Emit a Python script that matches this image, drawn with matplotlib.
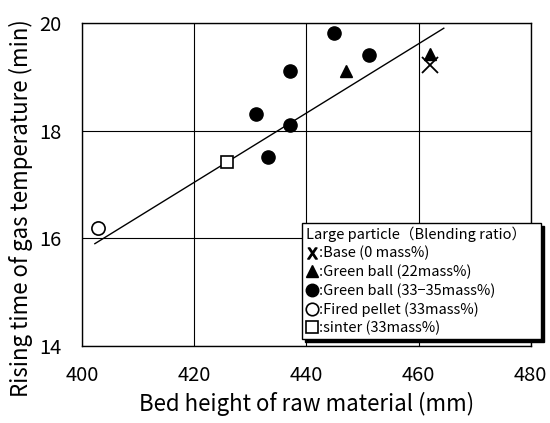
import numpy as np
import matplotlib
matplotlib.use('Agg')
import matplotlib.pyplot as plt
from matplotlib.lines import Line2D

plt.rcParams['font.family'] = ['Noto Sans CJK JP', 'DejaVu Sans']

# data
base_x = [462.0]
base_y = [19.22]
gb22_x = [447.1, 462.0]
gb22_y = [19.11, 19.42]
gb33_x = [445.0, 451.1, 437.0, 431.0, 437.0, 433.2]
gb33_y = [19.82, 19.41, 19.11, 18.30, 18.11, 17.51]
pellet_x = [402.9]
pellet_y = [16.19]
sinter_x = [425.9]
sinter_y = [17.42]
fit_x = [402.3, 464.5]
fit_y = [15.90, 19.90]

labels = [':Base (0 mass%)', ':Green ball (22mass%)', ':Green ball (33\u221235mass%)',
          ':Fired pellet (33mass%)', ':sinter (33mass%)']

fig = plt.figure(figsize=(5.5, 4.23), dpi=100)
ax = fig.add_axes([0.149, 0.182, 0.816, 0.764])

ax.plot(fit_x, fit_y, color='k', lw=1.0)
ax.plot(base_x, base_y, 'x', color='k', ms=11, mew=1.3)
ax.plot(gb22_x, gb22_y, '^', color='k', ms=9)
ax.plot(gb33_x, gb33_y, 'o', color='k', ms=9.5)
ax.plot(pellet_x, pellet_y, 'o', mfc='white', mec='k', ms=9.5, mew=1.2)
ax.plot(sinter_x, sinter_y, 's', mfc='white', mec='k', ms=8.5, mew=1.2)

ax.set_xlim(400, 480)
ax.set_ylim(14, 20)
ax.set_xticks([400, 420, 440, 460, 480])
ax.set_yticks([14, 16, 18, 20])
ax.grid(True, color='k', lw=0.8)
ax.tick_params(length=0, labelsize=14.5)
ax.tick_params(axis='x', pad=14)
ax.tick_params(axis='y', pad=15)
for s in ax.spines.values():
    s.set_linewidth(1.0)
ax.set_xlabel('Bed height of raw material (mm)', fontsize=16, labelpad=4)
ax.set_ylabel('Rising time of gas temperature (min)', fontsize=16)
ax.yaxis.set_label_coords(-0.108, 0.427)

handles = [
    Line2D([], [], ls='none', marker=r'$\mathsf{X}$', color='k', ms=8),
    Line2D([], [], ls='none', marker='^', color='k', ms=8),
    Line2D([], [], ls='none', marker='o', color='k', ms=9),
    Line2D([], [], ls='none', marker='o', mfc='white', mec='k', ms=9, mew=1.2),
    Line2D([], [], ls='none', marker='s', mfc='white', mec='k', ms=8, mew=1.2),
]
leg = ax.legend(handles, labels, title='Large particle\uff08Blending ratio\uff09',
                loc='upper left', bbox_to_anchor=(0.491, 0.381, 0.532, 0.0),
                mode='expand', alignment='left',
                fontsize=10.5, title_fontsize=10.5, handlelength=0.8, handletextpad=0.1,
                labelspacing=0.28, borderpad=0.25, borderaxespad=0,
                fancybox=False, edgecolor='k', framealpha=1,
                shadow={'color': 'k', 'alpha': 1})
leg.get_frame().set_linewidth(1.0)
leg.set_clip_on(False)

fig.savefig('out.png', dpi=100)
